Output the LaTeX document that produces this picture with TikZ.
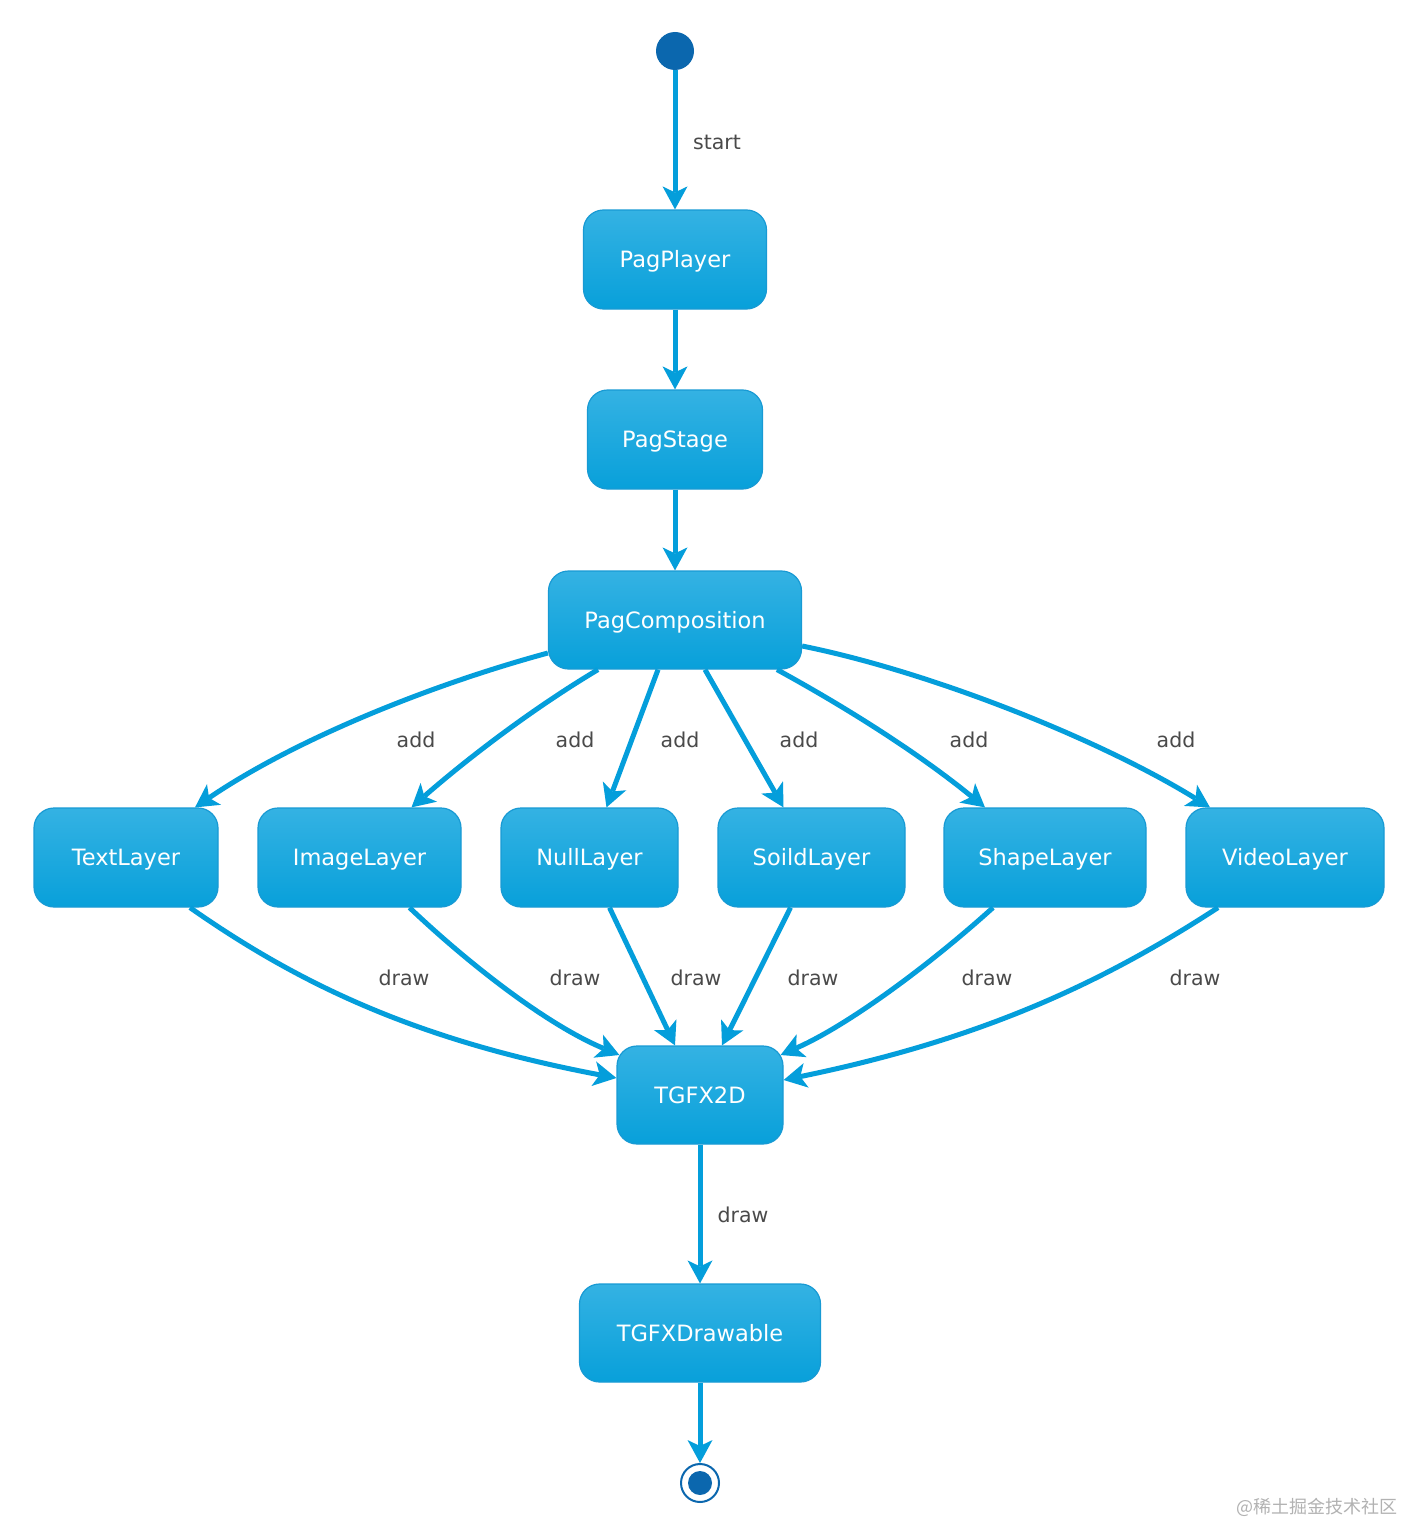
\documentclass[tikz,border=0pt]{standalone}
\usepackage{fontspec}
\setmainfont{DejaVu Sans}
\newfontfamily\cjkfont{Noto Sans CJK SC}
\usetikzlibrary{arrows.meta,calc}
\definecolor{arrowc}{RGB}{4,158,219}
\definecolor{boxtop}{RGB}{52,178,227}
\definecolor{boxbot}{RGB}{8,160,218}
\definecolor{boxline}{RGB}{24,154,212}
\definecolor{darkdot}{RGB}{11,103,174}
\definecolor{labelc}{RGB}{74,74,74}
\tikzset{
  statebox/.style={draw=boxline, line width=1.2pt, rounded corners=20pt,
    top color=boxtop, bottom color=boxbot, text=white,
    font=\fontsize{22.5}{26}\selectfont, minimum height=99pt, inner sep=0pt,
    text height=16.4pt, text depth=0pt},
  edgelbl/.style={text=labelc, font=\fontsize{20.5}{24}\selectfont, inner sep=0pt},
  flow/.style={draw=arrowc, line width=5pt,
    -{Stealth[length=23pt,width=25pt,inset=6pt,line width=0pt]}},
}
\begin{document}
\begin{tikzpicture}[x=1pt,y=-1pt]
\useasboundingbox (0,0) rectangle (1405,1525);
\fill[white] (0,0) rectangle (1405,1525);

% nodes
\node[circle, fill=darkdot, minimum size=38pt, inner sep=0pt] (start) at (675,51) {};
\node[statebox, minimum width=183pt] (player) at (675,259.5) {PagPlayer};
\node[statebox, minimum width=175pt] (stage) at (675,439.5) {PagStage};
\node[statebox, minimum width=253pt, minimum height=98pt] (comp) at (675,620) {PagComposition};
\node[statebox, minimum width=184pt] (tl) at (126,857.5) {TextLayer};
\node[statebox, minimum width=203pt] (il) at (359.5,857.5) {ImageLayer};
\node[statebox, minimum width=177pt] (nl) at (589.5,857.5) {NullLayer};
\node[statebox, minimum width=187pt] (sl) at (811.5,857.5) {SoildLayer};
\node[statebox, minimum width=202pt] (shl) at (1045,857.5) {ShapeLayer};
\node[statebox, minimum width=198pt] (vl) at (1285,857.5) {VideoLayer};
\node[statebox, minimum width=166pt, minimum height=98pt] (tg) at (700,1095) {TGFX2D};
\node[statebox, minimum width=241pt, minimum height=98pt] (tgd) at (700,1333) {TGFXDrawable};
\node[circle, draw=darkdot, line width=2pt, fill=white, minimum size=38pt, inner sep=0pt] (end) at (700,1483) {};
\fill[darkdot] (end.center) circle (12pt);

% straight edges
\draw[flow] (start.south) -- (player.north);
\draw[flow] (player.south) -- (stage.north);
\draw[flow] (stage.south) -- (comp.north);
\draw[flow] (tg.south) -- (tgd.north);
\draw[flow] (tgd.south) -- (end.north);

% add edges
\draw[flow] ([yshift=-33pt]comp.west) .. controls +(-118,32) and +(100,-68) .. ([xshift=69pt]tl.north);
\draw[flow] ([xshift=-77pt]comp.south) .. controls +(-67,40) and +(55,-48) .. ([xshift=52pt]il.north);
\draw[flow] ([xshift=-17pt]comp.south) -- ([xshift=17pt]nl.north);
\draw[flow] ([xshift=30pt]comp.south) -- ([xshift=-28pt]sl.north);
\draw[flow] ([xshift=102pt]comp.south) .. controls +(73,40) and +(-65,-53) .. ([xshift=-60pt]shl.north);
\draw[flow] ([yshift=-26pt]comp.east) .. controls +(129,26) and +(-110,-68) .. ([xshift=-75pt]vl.north);

% draw edges
\draw[flow] ([xshift=64pt]tl.south) .. controls +(110,77) and +(-200,-38) .. ([yshift=17pt]tg.west);
\draw[flow] ([xshift=50pt]il.south) .. controls +(60,57) and +(-72,-30) .. ([xshift=3pt,yshift=40pt]tg.west);
\draw[flow] ([xshift=20pt]nl.south) -- ([xshift=-25pt]tg.north);
\draw[flow] ([xshift=-21pt]sl.south) -- ([xshift=22pt]tg.north);
\draw[flow] ([xshift=-52pt]shl.south) .. controls +(-63,57) and +(68,-30) .. ([xshift=-3pt,yshift=40pt]tg.east);
\draw[flow] ([xshift=-67pt]vl.south) .. controls +(-118,77) and +(195,-40) .. ([yshift=15pt]tg.east);

% labels
\node[edgelbl] (lstart) at (717,142) {start};
\node[edgelbl] (ladd1) at (416,740) {add};
\node[edgelbl] (ladd2) at (575,740) {add};
\node[edgelbl] (ladd3) at (680,740) {add};
\node[edgelbl] (ladd4) at (799,740) {add};
\node[edgelbl] (ladd5) at (969,740) {add};
\node[edgelbl] (ladd6) at (1176,740) {add};
\node[edgelbl] (ldraw1) at (404,978) {draw};
\node[edgelbl] (ldraw2) at (575,978) {draw};
\node[edgelbl] (ldraw3) at (696,978) {draw};
\node[edgelbl] (ldraw4) at (813,978) {draw};
\node[edgelbl] (ldraw5) at (987,978) {draw};
\node[edgelbl] (ldraw6) at (1195,978) {draw};
\node[edgelbl] (ldraw7) at (743,1215) {draw};

% watermark
\node[text=black!30, font=\cjkfont\fontsize{18}{20}\selectfont, inner sep=0pt, anchor=east] (wm) at (1398,1507) {@稀土掘金技术社区};
\end{tikzpicture}
\end{document}
